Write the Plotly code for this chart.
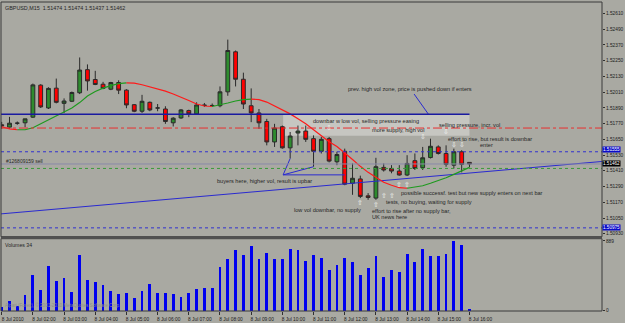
import plotly.graph_objects as go

# ---------------- data ----------------
bars = list(range(61))
label_bars = [0, 4, 8, 12, 16, 20, 24, 28, 32, 36, 40, 44, 48, 52, 56, 60]
time_labels = ["8 Jul 2010", "8 Jul 02:00", "8 Jul 03:00", "8 Jul 04:00", "8 Jul 05:00",
               "8 Jul 06:00", "8 Jul 07:00", "8 Jul 08:00", "8 Jul 09:00", "8 Jul 10:00",
               "8 Jul 11:00", "8 Jul 12:00", "8 Jul 13:00", "8 Jul 14:00", "8 Jul 15:00",
               "8 Jul 16:00"]

open_ = [1.51761, 1.51743, 1.51773, 1.51776, 1.51819, 1.52063, 1.51889, 1.52040, 1.51924, 1.51940,
         1.52005, 1.52181, 1.52106, 1.52070, 1.52032, 1.52083, 1.52025, 1.51914, 1.51864, 1.51932,
         1.51889, 1.51881, 1.51776, 1.51813, 1.51869, 1.51844, 1.51912, 1.51908, 1.51906, 1.52012,
         1.52317, 1.52108, 1.51906, 1.51851, 1.51786, 1.51630, 1.51746, 1.51585, 1.51698, 1.51713,
         1.51655, 1.51559, 1.51655, 1.51479, 1.51559, 1.51315, 1.51348, 1.51219, 1.51202, 1.51436,
         1.51428, 1.51408, 1.51378, 1.51487, 1.51434, 1.51511, 1.51592, 1.51542, 1.51453, 1.51555,
         1.51474]
high = [1.51783, 1.51821, 1.51786, 1.51806, 1.52075, 1.52070, 1.52047, 1.52113, 1.51962, 1.52014,
        1.52274, 1.52221, 1.52172, 1.52088, 1.52088, 1.52100, 1.52032, 1.51919, 1.51989, 1.51938,
        1.51919, 1.51902, 1.51819, 1.51881, 1.51876, 1.51932, 1.51927, 1.51923, 1.52053, 1.52410,
        1.52327, 1.52158, 1.52038, 1.51881, 1.51806, 1.51768, 1.51755, 1.51706, 1.51755, 1.51755,
        1.51680, 1.51668, 1.51668, 1.51555, 1.51579, 1.51466, 1.51373, 1.51240, 1.51509, 1.51466,
        1.51453, 1.51453, 1.51529, 1.51542, 1.51592, 1.51655, 1.51604, 1.51604, 1.51579, 1.51567,
        1.51474]
low = [1.51730, 1.51730, 1.51761, 1.51743, 1.51813, 1.51889, 1.51881, 1.51924, 1.51851, 1.51934,
       1.51995, 1.52021, 1.52063, 1.52032, 1.52025, 1.51995, 1.51887, 1.51857, 1.51851, 1.51864,
       1.51864, 1.51768, 1.51748, 1.51806, 1.51819, 1.51838, 1.51897, 1.51897, 1.51894, 1.51982,
       1.52053, 1.51881, 1.51781, 1.51730, 1.51604, 1.51592, 1.51579, 1.51504, 1.51604, 1.51630,
       1.51441, 1.51542, 1.51474, 1.51453, 1.51300, 1.51227, 1.51202, 1.51189, 1.51189, 1.51404,
       1.51391, 1.51373, 1.51370, 1.51416, 1.51416, 1.51504, 1.51534, 1.51441, 1.51428, 1.51398,
       1.51437]
close = [1.51753, 1.51773, 1.51773, 1.51806, 1.52065, 1.51897, 1.52038, 1.51932, 1.51942, 1.52007,
         1.52178, 1.52095, 1.52068, 1.52038, 1.52083, 1.52025, 1.51912, 1.51864, 1.51940, 1.51874,
         1.51889, 1.51786, 1.51811, 1.51874, 1.51844, 1.51912, 1.51908, 1.51908, 1.52012, 1.52327,
         1.52108, 1.51919, 1.51851, 1.51776, 1.51630, 1.51736, 1.51585, 1.51675, 1.51713, 1.51650,
         1.51559, 1.51650, 1.51484, 1.51534, 1.51308, 1.51353, 1.51215, 1.51207, 1.51441, 1.51416,
         1.51408, 1.51378, 1.51466, 1.51428, 1.51509, 1.51597, 1.51542, 1.51459, 1.51555, 1.51459,
         1.51462]
volume = [47, 122, 59, 206, 455, 274, 572, 383, 426, 244,
          711, 400, 366, 332, 261, 219, 224, 168, 261, 350,
          231, 227, 211, 173, 224, 282, 294, 294, 556, 666,
          779, 716, 834, 661, 745, 661, 669, 796, 779, 635,
          716, 682, 522, 585, 682, 619, 464, 552, 698, 433,
          518, 493, 733, 619, 796, 698, 703, 729, 889, 842,
          29]
ma = [1.51746, 1.51730, 1.51723, 1.51723, 1.51738, 1.51768, 1.51798, 1.51829, 1.51855, 1.51889,
      1.51930, 1.51980, 1.52014, 1.52040, 1.52059, 1.52074, 1.52081, 1.52078, 1.52066, 1.52051,
      1.52036, 1.52017, 1.51995, 1.51972, 1.51946, 1.51919, 1.51904, 1.51900, 1.51912, 1.51927,
      1.51942, 1.51953, 1.51957, 1.51953, 1.51934, 1.51904, 1.51874, 1.51844, 1.51806, 1.51768,
      1.51723, 1.51678, 1.51632, 1.51595, 1.51542, 1.51496, 1.51444, 1.51398, 1.51360, 1.51323,
      1.51300, 1.51281, 1.51277, 1.51285, 1.51296, 1.51315, 1.51334, 1.51357, 1.51383, 1.51410,
      1.51436]

price_ticks = [1.52610, 1.52490, 1.52370, 1.52250, 1.52130, 1.52010, 1.51890, 1.51770,
               1.51650, 1.51530, 1.51410, 1.51290, 1.51170, 1.51050, 1.50930]
volume_ticks = [0, 889]

level_zone_top = 1.51841
level_red = 1.51736
level_blue1 = 1.51555
level_bid = 1.51462
level_order = 1.51428
level_blue2 = 1.50975

trend_bars = [0, 60]
trend_prices = [1.51082, 1.51393]

zone_bars = [36.1, 60.0]
zone_prices = [1.51678, 1.51836]

pointer_from = (36.1, 1.51379)
pointer_to_bars = [37, 40, 44]
pointer_to_prices = [1.51504, 1.51441, 1.51379]
note_pointer_bars = [52.9, 54.8]
note_pointer_prices = [1.51995, 1.51836]

notes = ["prev. high vol zone, price is pushed down if enters",
         "downbar w low vol, selling pressure easing",
         "more supply, high vol",
         "selling pressure, incr. vol",
         "effort to rise, but result is downbar",
         "enter",
         "buyers here, higher vol, result is upbar",
         "possible successf. test but new supply enters on next bar",
         "tests, no buying, waiting for supply",
         "low vol downbar, no supply",
         "effort to rise after no supply bar,",
         "UK news here"]
note_bars = [44.1, 39.7, 47.3, 55.8, 57.0, 61.1, 27.4, 51.0, 49.1, 37.2, 47.3, 47.3]
note_prices = [1.52032, 1.51787, 1.51719, 1.51757, 1.51655, 1.51610, 1.51334, 1.51240,
               1.51172, 1.51114, 1.51104, 1.51055]

down_arrow_bars = [42, 54, 57, 58, 59]
down_arrow_prices = [1.51738, 1.51670, 1.51708, 1.51604, 1.51604]
up_arrow_bars = [46, 48, 49, 50, 51, 52]
up_arrow_prices = [1.51166, 1.51149, 1.51215, 1.51215, 1.51298, 1.51298]

title_text = "GBPUSD,M15  1.51474 1.51474 1.51437 1.51462"

# ---------------- style ----------------
BG = "#a9a9a2"
FONT = "Liberation Sans"
TXT = "#262626"
X_RANGE = [-0.09, 77.0]
MAIN_DOMAIN = [0.2404, 1.0]
VOL_DOMAIN = [0.0, 0.234]

fig = go.Figure()

# light zone rectangle
fig.add_shape(type="rect", xref="x", yref="y2", x0=zone_bars[0], x1=zone_bars[1],
              y0=zone_prices[0], y1=zone_prices[1], fillcolor="#c6c6c1",
              line=dict(width=0), layer="below")

# horizontal levels
fig.add_shape(type="line", xref="x", yref="y2", x0=-0.5, x1=60, y0=level_zone_top, y1=level_zone_top,
              line=dict(color="#1a1aa0", width=1.3))
fig.add_shape(type="line", xref="paper", yref="y2", x0=0, x1=1, y0=level_red, y1=level_red,
              line=dict(color="#e83030", width=1, dash="dashdot"))
fig.add_shape(type="line", xref="paper", yref="y2", x0=0, x1=1, y0=level_blue1, y1=level_blue1,
              line=dict(color="#3030d0", width=1, dash="dot"))
fig.add_shape(type="line", xref="paper", yref="y2", x0=0, x1=1, y0=level_bid, y1=level_bid,
              line=dict(color="#8a8aa8", width=1))
fig.add_shape(type="line", xref="paper", yref="y2", x0=0, x1=1, y0=level_order, y1=level_order,
              line=dict(color="#3a9a3a", width=1, dash="dot"))
fig.add_shape(type="line", xref="paper", yref="y2", x0=0, x1=1, y0=level_blue2, y1=level_blue2,
              line=dict(color="#3030d0", width=1, dash="dot"))

# trend line (ray extended to the right edge)
slope = (trend_prices[1] - trend_prices[0]) / (trend_bars[1] - trend_bars[0])
fig.add_trace(go.Scatter(x=[X_RANGE[0], X_RANGE[1]],
                         y=[trend_prices[0] + slope * (X_RANGE[0] - trend_bars[0]),
                            trend_prices[0] + slope * (X_RANGE[1] - trend_bars[0])],
                         mode="lines", line=dict(color="#2a2ad0", width=1),
                         xaxis="x", yaxis="y2", hoverinfo="skip"))

# pointer lines
for bx, py in zip(pointer_to_bars, pointer_to_prices):
    fig.add_trace(go.Scatter(x=[pointer_from[0], bx], y=[pointer_from[1], py], mode="lines",
                             line=dict(color="#2a2ad0", width=1), xaxis="x", yaxis="y2",
                             hoverinfo="skip"))
fig.add_trace(go.Scatter(x=note_pointer_bars, y=note_pointer_prices, mode="lines",
                         line=dict(color="#2a2ad0", width=1), xaxis="x", yaxis="y2",
                         hoverinfo="skip"))

# candles
fig.add_trace(go.Candlestick(x=bars, open=open_, high=high, low=low, close=close,
                             xaxis="x", yaxis="y2", whiskerwidth=0,
                             increasing=dict(fillcolor="#2e8b2e", line=dict(color="#2a2a2a", width=1)),
                             decreasing=dict(fillcolor="#ff0000", line=dict(color="#2a2a2a", width=1)),
                             hoverinfo="skip"))

# moving average, coloured by direction
runs = []
start = 0
def direction(i):
    return ma[i + 1] >= ma[i]
cur = direction(0)
for i in range(1, len(ma) - 1):
    d = direction(i)
    if d != cur:
        runs.append((start, i, cur))
        start = i
        cur = d
runs.append((start, len(ma) - 1, cur))
for s, e, up in runs:
    fig.add_trace(go.Scatter(x=bars[s:e + 1], y=ma[s:e + 1], mode="lines",
                             line=dict(color="#1f9a1f" if up else "#ff1a1a", width=1.2),
                             xaxis="x", yaxis="y2", hoverinfo="skip"))

# volumes
fig.add_trace(go.Bar(x=bars, y=volume, width=0.36, marker=dict(color="#0000f0", line=dict(width=0)),
                     xaxis="x", yaxis="y", hoverinfo="skip"))

# text notes
for t, bx, py in zip(notes, note_bars, note_prices):
    fig.add_annotation(x=bx, y=py, xref="x", yref="y2", text=t, showarrow=False,
                       xanchor="left", yanchor="middle", font=dict(family=FONT, size=5.6, color=TXT))
for bx, py in zip(down_arrow_bars, down_arrow_prices):
    fig.add_annotation(x=bx, y=py, xref="x", yref="y2", text="⇩", showarrow=False,
                       font=dict(family="DejaVu Sans", size=7, color="#f2f2f2"))
for bx, py in zip(up_arrow_bars, up_arrow_prices):
    fig.add_annotation(x=bx, y=py, xref="x", yref="y2", text="⇧", showarrow=False,
                       font=dict(family="DejaVu Sans", size=7, color="#f2f2f2"))

fig.add_annotation(x=0.3, y=level_bid, xref="x", yref="y2", text="#126809159 sell", showarrow=False,
                   xanchor="left", yanchor="bottom", yshift=-2, font=dict(family=FONT, size=5, color=TXT))

# title and panel labels
fig.add_annotation(x=0.004, y=1, xref="paper", yref="paper", text=title_text, showarrow=False,
                   xanchor="left", yanchor="top", yshift=-1, font=dict(family=FONT, size=5.4, color=TXT))
fig.add_annotation(x=0.004, y=VOL_DOMAIN[1], xref="paper", yref="paper", text="Volumes 34",
                   showarrow=False, xanchor="left", yanchor="top", yshift=-1,
                   font=dict(family=FONT, size=5.2, color=TXT))
fig.add_annotation(x=0.004, y=0, xref="paper", yref="paper",
                   text="Alpari (Forex), © 2001-2010 MetaQuotes Software Corp.",
                   showarrow=False, xanchor="left", yanchor="bottom", yshift=1,
                   font=dict(family=FONT, size=4.6, color="#8e8e88"))

# price labels on the right axis
for val, bg, shift in [(level_blue1, "#0a0ac8", 2), (level_bid, "#000000", 0), (level_blue2, "#0a0ac8", 0)]:
    fig.add_annotation(x=1, y=val, xref="paper", yref="y2", text=f"{val:.5f}", showarrow=False,
                       xanchor="left", yanchor="middle", yshift=shift, bgcolor=bg, borderpad=0,
                       font=dict(family=FONT, size=4.6, color="#ffffff"))

# panel frames
fig.add_shape(type="rect", xref="paper", yref="paper", x0=0, x1=1, y0=MAIN_DOMAIN[0], y1=MAIN_DOMAIN[1],
              line=dict(color="#3a3a3a", width=1))
fig.add_shape(type="rect", xref="paper", yref="paper", x0=0, x1=1, y0=VOL_DOMAIN[0], y1=VOL_DOMAIN[1],
              line=dict(color="#3a3a3a", width=1))
fig.add_shape(type="rect", xref="paper", yref="paper", x0=0, x1=1, y0=VOL_DOMAIN[1], y1=MAIN_DOMAIN[0],
              fillcolor="#505050", line=dict(width=0))

tickfont = dict(family=FONT, size=4.8, color="#202020")
fig.update_layout(
    width=625, height=323, margin=dict(l=1, r=19, t=2, b=9),
    paper_bgcolor=BG, plot_bgcolor=BG, showlegend=False,
    xaxis=dict(range=X_RANGE, domain=[0, 1], anchor="y", tickvals=label_bars, ticktext=time_labels,
               ticks="outside", ticklen=3, tickcolor="#303030", tickfont=tickfont,
               ticklabelshift=11, ticklabelstandoff=0, showgrid=False, zeroline=False,
               showline=False, rangeslider=dict(visible=False), fixedrange=True),
    yaxis=dict(domain=VOL_DOMAIN, range=[-4, 918], side="right", anchor="x",
               tickvals=volume_ticks, ticktext=[str(v) for v in volume_ticks],
               ticks="outside", ticklen=2, tickcolor="#303030", tickfont=tickfont,
               showgrid=False, zeroline=False),
    yaxis2=dict(domain=MAIN_DOMAIN, range=[1.509075, 1.526968], side="right", anchor="x",
                tickvals=price_ticks, ticktext=[f"{v:.5f}" for v in price_ticks],
                ticks="outside", ticklen=2, tickcolor="#303030", tickfont=tickfont,
                showgrid=False, zeroline=False),
    bargap=0,
)

fig.write_html("out.html")
